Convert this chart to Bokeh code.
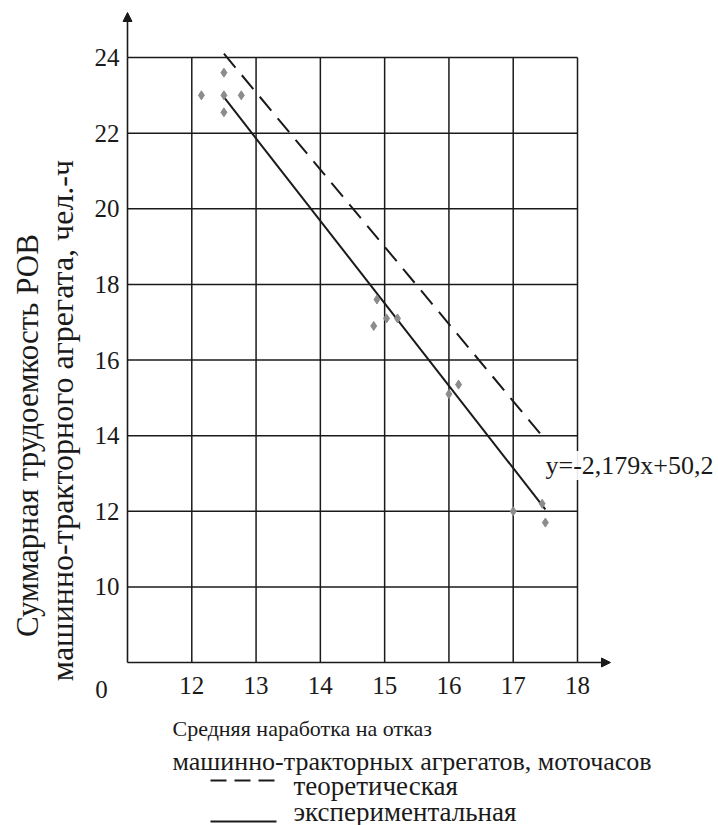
import math
from bokeh.plotting import figure
from bokeh.models import Label, Arrow, NormalHead, FixedTicker, Range1d, LinearAxis
from bokeh.embed import file_html
from bokeh.resources import INLINE

# ---- data ----
x_ticks = [12, 13, 14, 15, 16, 17, 18]
y_ticks = [10, 12, 14, 16, 18, 20, 22, 24]

pts_x = [12.15, 12.5, 12.5, 12.77, 12.5, 14.88, 14.83, 15.03, 15.2, 16.0, 16.15, 17.0, 17.45, 17.5]
pts_y = [23.0, 23.6, 23.0, 23.0, 22.55, 17.6, 16.9, 17.1, 17.1, 15.1, 15.35, 12.0, 12.2, 11.7]

theor_x = [12.5, 17.47]
theor_y = [24.1, 13.95]

exper_x = [12.5, 17.5]
exper_y = [22.95, 12.05]

equation = "y=-2,179x+50,2"
x_title = ["Средняя наработка на отказ", "машинно-тракторных агрегатов, моточасов"]
y_title = ["Суммарная трудоемкость РОВ", "машинно-тракторного агрегата, чел.-ч"]
legend_labels = ["теоретическая", "экспериментальная"]

# ---- layout (pixel placement of the plotting box) ----
W, H = 718, 825
L, R, T, B = 127, 577, 57, 662
X0, X1 = 11, 18
Y0, Y1 = 8, 24
FONT = "Liberation Serif"
INK = "#1a1a1a"

def dx(px):
    return X0 + (px - L) * (X1 - X0) / (R - L)

def dy(py):
    return Y0 + (B - py) * (Y1 - Y0) / (B - T)

p = figure(width=W, height=H, output_backend="svg", toolbar_location=None,
           x_axis_location=None, y_axis_location=None,
           x_range=Range1d(dx(0), dx(W)), y_range=Range1d(dy(H), dy(0)),
           min_border=0, min_border_left=0, min_border_right=0,
           min_border_top=0, min_border_bottom=0)
p.background_fill_color = "white"
p.border_fill_color = "white"
p.outline_line_color = None
p.xgrid.visible = False
p.ygrid.visible = False

# axes drawn at the origin corner of the chart box
xaxis = LinearAxis(ticker=FixedTicker(ticks=x_ticks), fixed_location=Y0, bounds=(X0, X1))
yaxis = LinearAxis(ticker=FixedTicker(ticks=y_ticks), fixed_location=X0, bounds=(Y0, Y1))
for ax in (xaxis, yaxis):
    ax.axis_line_color = INK
    ax.axis_line_width = 1.6
    ax.major_tick_line_color = None
    ax.minor_tick_line_color = None
    ax.major_label_text_font = FONT
    ax.major_label_text_font_size = "25px"
    ax.major_label_text_color = INK
xaxis.major_label_standoff = 8
yaxis.major_label_standoff = 2
p.add_layout(xaxis, "below")
p.add_layout(yaxis, "left")

# grid lines (from tick values), incl. the top/right border
p.segment(x0=x_ticks, y0=[Y0] * len(x_ticks), x1=x_ticks, y1=[Y1] * len(x_ticks),
          line_color=INK, line_width=1.5)
p.segment(x0=[X0] * len(y_ticks), y0=y_ticks, x1=[X1] * len(y_ticks), y1=y_ticks,
          line_color=INK, line_width=1.5)

# lines and points
p.line(theor_x, theor_y, line_color=INK, line_width=2, line_dash="18 10")
p.line(exper_x, exper_y, line_color=INK, line_width=2)
p.scatter(pts_x, pts_y, marker="diamond", size=9, fill_color="#8c8c8c", line_color="#8c8c8c")

# axis arrows
p.add_layout(Arrow(x_start=X0, y_start=Y1, x_end=X0, y_end=dy(12),
                   line_color=INK, line_width=1.6,
                   end=NormalHead(size=9, fill_color=INK, line_color=INK)))
p.add_layout(Arrow(x_start=X1, y_start=Y0, x_end=dx(610), y_end=Y0,
                   line_color=INK, line_width=1.6,
                   end=NormalHead(size=9, fill_color=INK, line_color=INK)))

# equation
p.add_layout(Label(x=dx(545), y=dy(465), text=equation, text_font=FONT, text_font_size="26px",
                   text_color=INK, text_align="left", text_baseline="middle",
                   background_fill_color="white", background_fill_alpha=0.9))

# origin label
p.add_layout(Label(x=dx(101), y=dy(689), text="0", text_font=FONT, text_font_size="25px",
                   text_color=INK, text_align="center", text_baseline="middle"))

# x title
p.add_layout(Label(x=dx(172), y=dy(728), text=x_title[0], text_font=FONT, text_font_size="22px",
                   text_color=INK, text_align="left", text_baseline="middle"))
p.add_layout(Label(x=dx(172), y=dy(761), text=x_title[1], text_font=FONT, text_font_size="26px",
                   text_color=INK, text_align="left", text_baseline="middle"))

# y title (rotated)
p.add_layout(Label(x=dx(27), y=dy(435), text=y_title[0], text_font=FONT, text_font_size="31px",
                   text_color=INK, text_align="center", text_baseline="middle", angle=math.pi / 2))
p.add_layout(Label(x=dx(61), y=dy(420), text=y_title[1], text_font=FONT, text_font_size="32px",
                   text_color=INK, text_align="center", text_baseline="middle", angle=math.pi / 2))

# legend
p.add_layout(Arrow(x_start=dx(210), y_start=dy(780), x_end=dx(276), y_end=dy(780),
                   line_color=INK, line_width=2, line_dash="16 8", start=None, end=None))
p.add_layout(Arrow(x_start=dx(210), y_start=dy(821), x_end=dx(276), y_end=dy(821),
                   line_color=INK, line_width=2, start=None, end=None))
p.add_layout(Label(x=dx(293), y=dy(785), text=legend_labels[0], text_font=FONT, text_font_size="27px",
                   text_color=INK, text_align="left", text_baseline="middle"))
p.add_layout(Label(x=dx(293), y=dy(811), text=legend_labels[1], text_font=FONT, text_font_size="27px",
                   text_color=INK, text_align="left", text_baseline="middle"))

open("out.html", "w").write(file_html(p, INLINE))
